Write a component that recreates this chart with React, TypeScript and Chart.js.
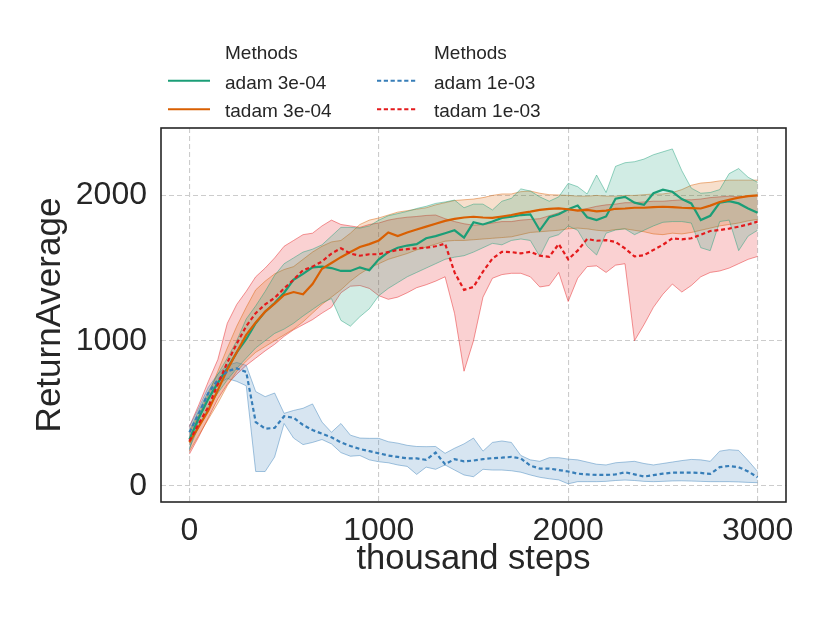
import { useEffect, useRef } from "react";
import { Chart, registerables } from "chart.js";

Chart.register(...registerables);

// ---- data (thousand steps, ReturnAverage) ----
const steps = [0, 50, 100, 150, 200, 250, 300, 350, 400, 450, 500, 550, 600, 650, 700, 750, 800, 850, 900, 950, 1000, 1050, 1100, 1150, 1200, 1250, 1300, 1350, 1400, 1450, 1500, 1550, 1600, 1650, 1700, 1750, 1800, 1850, 1900, 1950, 2000, 2050, 2100, 2150, 2200, 2250, 2300, 2350, 2400, 2450, 2500, 2550, 2600, 2650, 2700, 2750, 2800, 2850, 2900, 2950, 3000];

const adam3Mean = [320, 470, 600, 710, 810, 920, 1010, 1120, 1200, 1260, 1330, 1420, 1460, 1505, 1510, 1500, 1480, 1480, 1505, 1485, 1560, 1610, 1640, 1655, 1665, 1705, 1720, 1740, 1760, 1710, 1815, 1800, 1820, 1845, 1853, 1865, 1870, 1760, 1850, 1870, 1905, 1930, 1850, 1830, 1855, 1978, 1990, 1950, 1935, 2015, 2040, 2025, 1975, 1945, 1830, 1860, 1950, 1960, 1945, 1910, 1880];
const adam3Upper = [380, 520, 650, 770, 880, 1000, 1150, 1240, 1340, 1450, 1530, 1570, 1610, 1630, 1660, 1720, 1780, 1780, 1775, 1790, 1830, 1860, 1875, 1890, 1910, 1925, 1945, 1955, 1968, 1915, 1940, 1940, 1900, 1960, 1980, 2045, 2030, 1990, 1960, 1990, 2083, 2060, 2010, 2140, 2020, 2200, 2225, 2232, 2250, 2280, 2300, 2320, 2170, 2050, 2015, 2020, 2040, 2150, 2185, 2125, 2090];
const adam3Lower = [260, 410, 540, 640, 730, 810, 880, 950, 1000, 1050, 1080, 1120, 1170, 1215, 1260, 1290, 1140, 1100, 1165, 1220, 1310, 1360, 1400, 1440, 1470, 1500, 1530, 1560, 1575, 1585, 1610, 1640, 1670, 1660, 1690, 1700, 1690, 1580, 1710, 1730, 1790, 1760, 1650, 1590, 1740, 1762, 1770, 1730, 1760, 1790, 1815, 1820, 1820, 1810, 1640, 1620, 1820, 1830, 1620, 1720, 1760];

const tadam3Mean = [300, 410, 520, 660, 800, 920, 1040, 1125, 1200, 1255, 1315, 1335, 1320, 1390, 1495, 1535, 1575, 1610, 1645, 1665, 1690, 1745, 1720, 1745, 1765, 1785, 1805, 1825, 1838, 1848, 1853, 1848, 1845, 1855, 1865, 1878, 1888, 1900, 1908, 1911, 1905, 1895, 1900, 1890, 1895, 1908, 1910, 1915, 1915, 1920, 1922, 1920, 1915, 1912, 1910, 1930, 1955, 1970, 1985, 1995, 2000];
const tadam3Upper = [370, 490, 630, 790, 950, 1100, 1230, 1350, 1410, 1460, 1490, 1510, 1560, 1610, 1650, 1680, 1690, 1740, 1800, 1830, 1845, 1865, 1885, 1895, 1905, 1915, 1935, 1950, 1965, 1970, 1975, 1985, 2000, 2010, 2010, 2026, 2030, 2015, 2005, 2003, 2000, 1995, 1995, 2000, 1995, 1995, 2000, 2000, 2005, 2010, 2010, 2020, 2040, 2070, 2085, 2090, 2100, 2105, 2105, 2105, 2105];
const tadam3Lower = [240, 350, 460, 570, 690, 790, 860, 920, 960, 1000, 1040, 1080, 1130, 1190, 1250, 1300, 1350, 1410, 1460, 1500, 1530, 1560, 1580, 1600, 1625, 1645, 1665, 1685, 1690, 1690, 1695, 1700, 1705, 1710, 1715, 1730, 1745, 1750, 1755, 1760, 1770, 1775, 1770, 1760, 1755, 1765, 1770, 1760, 1750, 1735, 1730, 1740, 1735, 1745, 1760, 1775, 1790, 1800, 1810, 1825, 1835];

const adam1Mean = [370, 500, 640, 730, 790, 810, 785, 440, 395, 400, 480, 470, 420, 385, 360, 335, 300, 275, 255, 240, 225, 210, 200, 190, 190, 180, 230, 150, 185, 170, 175, 185, 192, 195, 200, 190, 140, 120, 120, 110, 100, 85, 80, 76, 76, 80, 95, 80, 65, 75, 85, 92, 92, 92, 90, 83, 130, 138, 130, 100, 60];
const adam1Upper = [410, 540, 680, 770, 830, 850, 830, 650, 615, 640, 500, 520, 535, 565, 440, 370, 430, 350, 330, 328, 328, 305, 295, 280, 272, 271, 272, 225, 260, 290, 330, 240, 300, 310, 300, 210, 180, 170, 195, 195, 185, 180, 165, 150, 145, 160, 165, 170, 155, 145, 155, 165, 175, 183, 180, 170, 240, 250, 245, 175, 100];
const adam1Lower = [250, 460, 600, 700, 740, 720, 690, 100, 100, 200, 430, 330, 285, 300, 320, 290, 230, 205, 210, 180, 167, 160, 145, 135, 80, 130, 115, 145, 110, 76, 64, 115, 110, 110, 105, 95, 76, 60, 50, 42, 15, 30, 30, 30, 32, 38, 41, 38, 32, 30, 32, 35, 36, 34, 32, 30, 30, 30, 28, 25, 23];

const tadam1Mean = [310, 430, 545, 700, 850, 980, 1100, 1190, 1250, 1295, 1360, 1420, 1485, 1510, 1545, 1600, 1636, 1600, 1585, 1595, 1595, 1610, 1625, 1630, 1636, 1640, 1650, 1668, 1470, 1350, 1370, 1475, 1565, 1612, 1610, 1601, 1612, 1585, 1578, 1665, 1560, 1620, 1700, 1688, 1692, 1680, 1635, 1580, 1588, 1625, 1660, 1705, 1698, 1705, 1730, 1755, 1762, 1772, 1785, 1800, 1820];
const tadam1Upper = [410, 560, 720, 870, 1120, 1250, 1340, 1440, 1500, 1570, 1650, 1690, 1730, 1740, 1790, 1830, 1800, 1790, 1780, 1800, 1810, 1830, 1842, 1850, 1855, 1862, 1865, 1840, 1820, 1805, 1795, 1800, 1810, 1820, 1820, 1830, 1835, 1840, 1860, 1880, 1900, 1900, 1910, 1925, 1935, 1940, 1950, 1950, 1955, 1960, 1960, 1965, 1970, 1970, 1975, 1985, 1990, 1995, 1990, 1995, 2000];
const tadam1Lower = [220, 340, 470, 600, 700, 770, 830, 880, 930, 975, 1030, 1075, 1110, 1145, 1190, 1230, 1330, 1375, 1380, 1360, 1310, 1285, 1300, 1330, 1365, 1385, 1410, 1440, 1188, 790, 1000, 1300, 1430, 1455, 1464, 1464, 1440, 1370, 1380, 1470, 1270, 1430, 1510, 1515, 1470, 1520, 1530, 1000, 1110, 1230, 1320, 1390, 1335, 1380, 1440, 1470, 1480, 1500, 1530, 1560, 1580];

const xTicks = [0, 1000, 2000, 3000];
const yTicks = [0, 1000, 2000];
const legendTitle = "Methods";

const FONT = "'Liberation Sans', Arial, Helvetica, sans-serif";
const TEXT = "#262626";

type Series = {
  label: string;
  mean: number[];
  upper: number[];
  lower: number[];
  rgb: string;
  dash: number[];
  lineOrder: number;
};

const series: Series[] = [
  { label: "adam 3e-04", mean: adam3Mean, upper: adam3Upper, lower: adam3Lower, rgb: "27,158,119", dash: [], lineOrder: 3 },
  { label: "tadam 3e-04", mean: tadam3Mean, upper: tadam3Upper, lower: tadam3Lower, rgb: "217,95,2", dash: [], lineOrder: 2 },
  { label: "adam 1e-03", mean: adam1Mean, upper: adam1Upper, lower: adam1Lower, rgb: "55,126,184", dash: [4, 2.8], lineOrder: 1 },
  { label: "tadam 1e-03", mean: tadam1Mean, upper: tadam1Upper, lower: tadam1Lower, rgb: "228,26,28", dash: [4, 2.8], lineOrder: 0 },
];

function pts(ys: number[]) {
  return steps.map((x, i) => ({ x, y: ys[i] }));
}

const framePlugin = {
  id: "frame",
  afterDraw(chart: any) {
    const { ctx, chartArea } = chart;
    ctx.save();
    ctx.strokeStyle = TEXT;
    ctx.lineWidth = 1.6;
    ctx.strokeRect(chartArea.left, chartArea.top, chartArea.right - chartArea.left, chartArea.bottom - chartArea.top);
    ctx.restore();
  },
};

const legendPlugin = {
  id: "twoColLegend",
  afterDraw(chart: any) {
    const ctx = chart.ctx;
    ctx.save();
    ctx.font = `19px ${FONT}`;
    ctx.fillStyle = TEXT;
    ctx.textBaseline = "alphabetic";
    ctx.textAlign = "left";
    const cols = [
      { lineX0: 168, lineX1: 210, textX: 225 },
      { lineX0: 377, lineX1: 417, textX: 434 },
    ];
    const titleY = 59;
    const rowBase = [88.5, 117.3];
    const rowLine = [80.7, 109.3];
    cols.forEach((c) => ctx.fillText(legendTitle, c.textX, titleY));
    series.forEach((s, i) => {
      const c = cols[Math.floor(i / 2)];
      const r = i % 2;
      ctx.fillStyle = TEXT;
      ctx.fillText(s.label, c.textX, rowBase[r]);
      ctx.beginPath();
      ctx.strokeStyle = `rgb(${s.rgb})`;
      ctx.lineWidth = 2;
      ctx.setLineDash(s.dash.length ? [4.2, 2.6] : []);
      ctx.moveTo(c.lineX0, rowLine[r]);
      ctx.lineTo(c.lineX1, rowLine[r]);
      ctx.stroke();
      ctx.setLineDash([]);
    });
    ctx.restore();
  },
};

export default function App() {
  const ref = useRef<HTMLCanvasElement>(null);

  useEffect(() => {
    if (!ref.current) return;
    Chart.defaults.font.family = FONT;
    const datasets: any[] = [];
    series.forEach((s, k) => {
      datasets.push({
        label: s.label + " upper",
        data: pts(s.upper),
        borderColor: `rgba(${s.rgb},0.45)`,
        borderWidth: 1,
        backgroundColor: `rgba(${s.rgb},0.2)`,
        fill: "+1",
        pointRadius: 0,
        order: 10 + k,
      });
      datasets.push({
        label: s.label + " lower",
        data: pts(s.lower),
        borderColor: `rgba(${s.rgb},0.45)`,
        borderWidth: 1,
        fill: false,
        pointRadius: 0,
        order: 10 + k,
      });
      datasets.push({
        label: s.label,
        data: pts(s.mean),
        borderColor: `rgb(${s.rgb})`,
        borderWidth: 2.2,
        borderDash: s.dash,
        fill: false,
        pointRadius: 0,
        order: s.lineOrder,
      });
    });

    const chart = new Chart(ref.current, {
      type: "line",
      data: { datasets },
      options: {
        responsive: false,
        animation: false,
        layout: { padding: { left: 0, right: 44, top: 128, bottom: 0 } },
        plugins: { legend: { display: false }, tooltip: { enabled: false } },
        elements: { line: { tension: 0 }, point: { radius: 0 } },
        scales: {
          x: {
            type: "linear",
            min: -150,
            max: 3150,
            afterBuildTicks: (s: any) => {
              s.ticks = xTicks.map((v) => ({ value: v }));
            },
            afterFit: (s: any) => {
              s.height = 121;
            },
            grid: { color: "#cccccc", lineWidth: 1.1, drawTicks: false },
            border: { display: false, dash: [5, 3] },
            ticks: {
              font: { size: 32 },
              color: TEXT,
              padding: 10,
              maxRotation: 0,
              autoSkip: false,
              callback: (v: any) => String(v),
            },
            title: {
              display: true,
              text: "thousand steps",
              font: { size: 34.5 },
              color: TEXT,
              padding: { top: 0, bottom: 43.3 },
            },
          },
          y: {
            type: "linear",
            min: -110,
            max: 2464,
            afterBuildTicks: (s: any) => {
              s.ticks = yTicks.map((v) => ({ value: v }));
            },
            afterFit: (s: any) => {
              s.width = 161;
            },
            grid: { color: "#cccccc", lineWidth: 1.1, drawTicks: false },
            border: { display: false, dash: [5, 3] },
            ticks: {
              font: { size: 32 },
              color: TEXT,
              padding: 14,
              autoSkip: false,
              callback: (v: any) => String(v),
            },
            title: {
              display: true,
              text: "ReturnAverage",
              font: { size: 35 },
              color: TEXT,
              padding: { top: 29, bottom: 0 },
            },
          },
        },
      },
      plugins: [framePlugin, legendPlugin],
    });
    return () => chart.destroy();
  }, []);

  return (
    <div style={{ position: "absolute", left: 0, top: 0, width: 830, height: 623, background: "#fff" }}>
      <canvas ref={ref} width={830} height={623} style={{ width: 830, height: 623 }} />
    </div>
  );
}
